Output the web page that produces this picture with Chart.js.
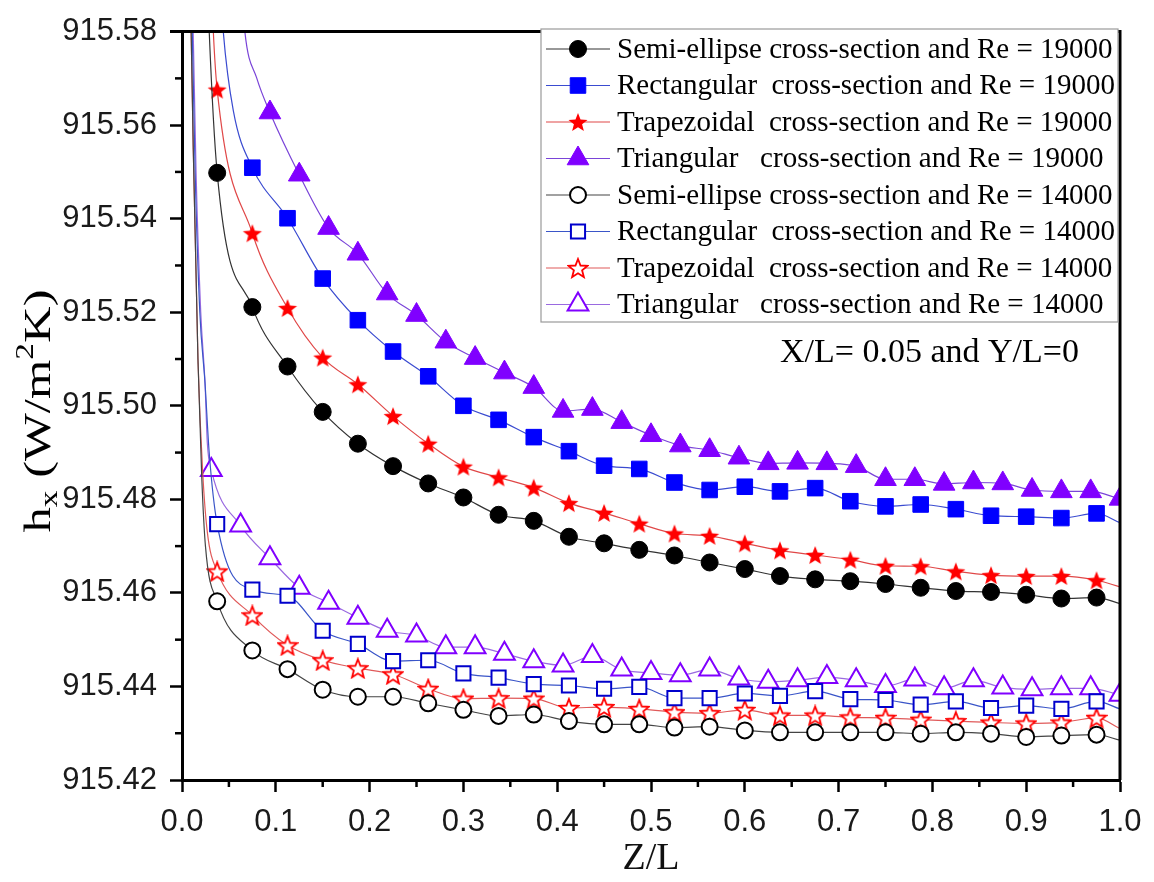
<!DOCTYPE html>
<html>
<head>
<meta charset="utf-8">
<script src="https://cdn.jsdelivr.net/npm/chart.js@4.4.0/dist/chart.umd.min.js"></script>
<style>
  body { margin: 0; background: #fff; }
  #hxChart { display: block; }
</style>
</head>
<body>
<canvas id="hxChart" width="1154" height="882"></canvas>
<script>
  // Z/L stations carrying a symbol
  const zMarks = [
    0.0375, 0.075, 0.1125, 0.15, 0.1875, 0.225, 0.2625, 0.3, 0.3375, 0.375,
    0.4125, 0.45, 0.4875, 0.525, 0.5625, 0.6, 0.6375, 0.675, 0.7125, 0.75,
    0.7875, 0.825, 0.8625, 0.9, 0.9375, 0.975,
  ];
  const zMarksTri = [
    0.03125, 0.0625, 0.09375, 0.125, 0.15625, 0.1875, 0.21875, 0.25,
    0.28125, 0.3125, 0.34375, 0.375, 0.40625, 0.4375, 0.46875, 0.5,
    0.53125, 0.5625, 0.59375, 0.625, 0.65625, 0.6875, 0.71875, 0.75,
    0.78125, 0.8125, 0.84375, 0.875, 0.90625, 0.9375, 0.96875, 1.0,
  ];

  // Re = 19000
  const semi19 = [
    915.5498, 915.5211, 915.5084, 915.4987, 915.4919, 915.4871, 915.4834, 915.4804, 915.4767, 915.4754,
    915.4720, 915.4706, 915.4692, 915.4680, 915.4665, 915.4651, 915.4636, 915.4629, 915.4625, 915.4619,
    915.4611, 915.4604, 915.4602, 915.4596, 915.4588, 915.4590,
  ];
  const rect19 = [
    915.5509, 915.5401, 915.5272, 915.5183, 915.5116, 915.5063, 915.5000, 915.4970, 915.4933,
    915.4903, 915.4872, 915.4865, 915.4836, 915.4820, 915.4827, 915.4817, 915.4824, 915.4796, 915.4785,
    915.4789, 915.4779, 915.4765, 915.4763, 915.4760, 915.4770,
  ];
  const trap19 = [
    915.5676, 915.5369, 915.5209, 915.5103, 915.5046, 915.4978, 915.4919, 915.4870, 915.4847, 915.4825,
    915.4792, 915.4771, 915.4748, 915.4727, 915.4722, 915.4706, 915.4691, 915.4681, 915.4671, 915.4658,
    915.4657, 915.4646, 915.4638, 915.4636, 915.4636, 915.4627,
  ];
  const tri19 = [
    915.5627, 915.5494, 915.5380, 915.5325, 915.5240, 915.5194, 915.5137, 915.5102, 915.5071,
    915.5040, 915.4989, 915.4993, 915.4965, 915.4937, 915.4915, 915.4905, 915.4889, 915.4877, 915.4878,
    915.4877, 915.4871, 915.4843, 915.4843, 915.4833, 915.4836, 915.4834, 915.4820, 915.4817, 915.4817,
    915.4801,
  ];

  // Re = 14000
  const semi14 = [
    915.4582, 915.4477, 915.4437, 915.4393, 915.4378, 915.4378, 915.4364, 915.4350, 915.4337, 915.4340,
    915.4326, 915.4319, 915.4319, 915.4312, 915.4314, 915.4306, 915.4302, 915.4302, 915.4302, 915.4302,
    915.4299, 915.4302, 915.4299, 915.4292, 915.4295, 915.4297,
  ];
  const rect14 = [
    915.4747, 915.4607, 915.4594, 915.4519, 915.4491, 915.4454, 915.4456, 915.4428, 915.4419, 915.4405,
    915.4402, 915.4395, 915.4399, 915.4375, 915.4375, 915.4385, 915.4380, 915.4390, 915.4373, 915.4371,
    915.4361, 915.4368, 915.4354, 915.4359, 915.4352, 915.4368,
  ];
  const trap14 = [
    915.4646, 915.4552, 915.4488, 915.4456, 915.4439, 915.4426, 915.4395, 915.4374, 915.4375, 915.4374,
    915.4354, 915.4356, 915.4352, 915.4345, 915.4343, 915.4350, 915.4338, 915.4338, 915.4334, 915.4333,
    915.4329, 915.4326, 915.4323, 915.4321, 915.4323, 915.4333,
  ];
  const tri14 = [
    915.4863, 915.4744, 915.4674, 915.4611, 915.4579, 915.4547, 915.4519, 915.4509, 915.4484, 915.4484,
    915.4470, 915.4454, 915.4445, 915.4465, 915.4436, 915.4429, 915.4424, 915.4436, 915.4417, 915.4410,
    915.4413, 915.4420, 915.4413, 915.4401, 915.4415, 915.4396, 915.4413, 915.4398, 915.4394, 915.4396,
    915.4396, 915.4382,
  ];

  // steep entrance region (no symbols) and wall end values
  const semi19LeadZ = [0.024, 0.029];            const semi19LeadH = [915.61, 915.58];
  const rect19LeadZ = [0.038, 0.044, 0.0547];    const rect19LeadH = [915.60, 915.58, 915.5631];
  const trap19LeadZ = [0.028, 0.0334];           const trap19LeadH = [915.61, 915.58];
  const tri19LeadZ  = [0.060, 0.067, 0.0796];    const tri19LeadH  = [915.60, 915.58, 915.5701];
  const semi14LeadZ = [0.008, 0.012, 0.017, 0.021, 0.025];   const semi14LeadH = [915.60, 915.555, 915.51, 915.485, 915.470];
  const rect14LeadZ = [0.009, 0.014, 0.019, 0.0245, 0.029];  const rect14LeadH = [915.60, 915.55, 915.52, 915.505, 915.490];
  const trap14LeadZ = [0.008, 0.012, 0.017, 0.022, 0.027];   const trap14LeadH = [915.60, 915.555, 915.51, 915.486, 915.473];
  const tri14LeadZ  = [0.010, 0.015, 0.020, 0.0245, 0.027];  const tri14LeadH  = [915.60, 915.55, 915.52, 915.505, 915.492];

  const semi19End = 915.4577, rect19End = 915.4750, trap19End = 915.4613;
  const semi14End = 915.4285, rect14End = 915.4352, trap14End = 915.4310;

  const yTicks = [915.42, 915.44, 915.46, 915.48, 915.50, 915.52, 915.54, 915.56, 915.58];

  const serif = "'Liberation Serif', 'Times New Roman', serif";
  const sans = "'Liberation Sans', Arial, sans-serif";

  function starImage(fill, stroke) {
    const c = document.createElement('canvas');
    c.width = c.height = 22;
    const g = c.getContext('2d');
    const R = 10, r = 4.3;
    g.beginPath();
    for (let i = 0; i < 10; i++) {
      const a = -Math.PI / 2 + i * Math.PI / 5;
      const rr = i % 2 ? r : R;
      g.lineTo(11 + rr * Math.cos(a), 12 + rr * Math.sin(a));
    }
    g.closePath();
    g.fillStyle = fill;
    g.fill();
    if (stroke) {
      g.lineWidth = 1.8;
      g.strokeStyle = stroke;
      g.stroke();
    }
    return c;
  }

  function series(leadZ, leadH, markZ, markH, endH) {
    const pts = [];
    leadZ.forEach((z, i) => pts.push({ x: z, y: leadH[i], mark: false }));
    markZ.forEach((z, i) => pts.push({ x: z, y: markH[i], mark: true }));
    if (endH !== undefined) pts.push({ x: 1.0, y: endH, mark: false });
    return pts;
  }

  function makeSet(label, data, line, fill, edge, style, radius) {
    return {
      label: label,
      data: data,
      borderColor: line,
      borderWidth: 1.2,
      pointStyle: style,
      pointBackgroundColor: fill,
      pointBorderColor: edge,
      pointBorderWidth: fill === '#ffffff' ? 2 : 1,
      pointRadius: ctx => (ctx.raw && ctx.raw.mark ? radius : 0),
      cubicInterpolationMode: 'monotone',
    };
  }

  const datasets = [
    makeSet('Semi-ellipse cross-section and Re = 19000',
      series(semi19LeadZ, semi19LeadH, zMarks, semi19, semi19End), '#333333', '#000000', '#000000', 'circle', 8.5),
    makeSet('Rectangular  cross-section and Re = 19000',
      series(rect19LeadZ, rect19LeadH, zMarks.slice(1), rect19, rect19End), '#3a4bd0', '#0000ff', '#0000ff', 'rect', 11),
    makeSet('Trapezoidal  cross-section and Re = 19000',
      series(trap19LeadZ, trap19LeadH, zMarks, trap19, trap19End), '#e04848', '#ff0000', '#ff0000', starImage('#ff0000', null), 9),
    makeSet('Triangular   cross-section and Re = 19000',
      series(tri19LeadZ, tri19LeadH, zMarksTri.slice(2), tri19), '#7a44d8', '#8000ff', '#8000ff', 'triangle', 12.5),
    makeSet('Semi-ellipse cross-section and Re = 14000',
      series(semi14LeadZ, semi14LeadH, zMarks, semi14, semi14End), '#444444', '#ffffff', '#000000', 'circle', 8),
    makeSet('Rectangular  cross-section and Re = 14000',
      series(rect14LeadZ, rect14LeadH, zMarks, rect14, rect14End), '#3a55c8', '#ffffff', '#0000cc', 'rect', 10),
    makeSet('Trapezoidal  cross-section and Re = 14000',
      series(trap14LeadZ, trap14LeadH, zMarks, trap14, trap14End), '#e05a5a', '#ffffff', '#ff0000', starImage('#ffffff', '#ff0000'), 9),
    makeSet('Triangular   cross-section and Re = 14000',
      series(tri14LeadZ, tri14LeadH, zMarksTri, tri14), '#9a6ae0', '#ffffff', '#8000ff', 'triangle', 12),
  ];

  // frame, minor ticks, y title, legend box and note
  const decorations = {
    id: 'decorations',
    afterDraw(chart) {
      const { ctx, chartArea: a, scales } = chart;
      ctx.save();

      ctx.strokeStyle = '#000';
      ctx.lineWidth = 3;
      ctx.beginPath();
      ctx.moveTo(a.left - 12, a.top);
      ctx.lineTo(a.right, a.top);
      ctx.lineTo(a.right, a.bottom);
      ctx.stroke();

      ctx.lineWidth = 2.5;
      for (let v = 0.05; v < 1; v += 0.1) {
        const px = scales.x.getPixelForValue(v);
        ctx.beginPath(); ctx.moveTo(px, a.bottom); ctx.lineTo(px, a.bottom + 7); ctx.stroke();
      }
      for (let i = 0; i < yTicks.length - 1; i++) {
        const py = scales.y.getPixelForValue((yTicks[i] + yTicks[i + 1]) / 2);
        ctx.beginPath(); ctx.moveTo(a.left, py); ctx.lineTo(a.left - 7, py); ctx.stroke();
      }

      // y axis title with subscript and superscript, run along 243 px
      ctx.translate(38, 411);
      ctx.rotate(-Math.PI / 2);
      ctx.fillStyle = '#000';
      ctx.textBaseline = 'alphabetic';
      const big = '38px ' + serif, small = '25px ' + serif;
      const parts = [['h', big, 0], ['x', small, 7], [' (W/m', big, 0], ['2', small, -17], ['K)', big, 0]];
      let total = 0;
      parts.forEach(p => { ctx.font = p[1]; total += ctx.measureText(p[0]).width; });
      ctx.scale(243 / total, 1);
      let x = -total / 2;
      parts.forEach(p => {
        ctx.font = p[1];
        ctx.fillText(p[0], x, 12 + p[2]);
        x += ctx.measureText(p[0]).width;
      });
      ctx.setTransform(1, 0, 0, 1, 0, 0);

      // legend
      ctx.fillStyle = '#fff';
      ctx.fillRect(541, 29, 577, 293);
      ctx.strokeStyle = '#9a9a9a';
      ctx.lineWidth = 1.2;
      ctx.strokeRect(541, 29, 577, 293);
      ctx.font = '29px ' + serif;
      ctx.textBaseline = 'middle';
      chart.data.datasets.forEach((ds, i) => {
        const y = 49 + i * 36.5;
        ctx.strokeStyle = ds.borderColor;
        ctx.lineWidth = 1.2;
        ctx.beginPath(); ctx.moveTo(546, y); ctx.lineTo(610, y); ctx.stroke();
        const meta = chart.getDatasetMeta(i);
        const pt = meta.data.find(e => e.options.radius > 0);
        ctx.fillStyle = ds.pointBackgroundColor;
        ctx.strokeStyle = ds.pointBorderColor;
        ctx.lineWidth = ds.pointBorderWidth;
        Chart.helpers.drawPoint(ctx, {
          pointStyle: ds.pointStyle,
          radius: pt ? pt.options.radius : 8,
          borderWidth: ds.pointBorderWidth,
          rotation: 0,
        }, 578, y);
        ctx.fillStyle = '#000';
        ctx.fillText(ds.label, 617, y + 1);
      });

      ctx.font = '34px ' + serif;
      ctx.fillText('X/L= 0.05 and Y/L=0', 780, 353);
      ctx.restore();
    },
  };

  const tickFont = { family: sans, size: 31 };

  const config = {
    type: 'line',
    data: { datasets: datasets },
    options: {
      responsive: false,
      animation: false,
      devicePixelRatio: 1,
      layout: { padding: { top: 24, right: 34, left: 0, bottom: 0 } },
      plugins: {
        legend: { display: false },
        tooltip: { enabled: false },
      },
      scales: {
        x: {
          type: 'linear',
          min: 0,
          max: 1,
          afterFit: s => { s.height = 102; },
          grid: { drawOnChartArea: false, tickLength: 12, tickWidth: 2.5, tickColor: '#000' },
          border: { color: '#000', width: 3 },
          ticks: {
            stepSize: 0.1,
            autoSkip: false,
            maxRotation: 0,
            padding: 12,
            color: '#1a1a1a',
            font: tickFont,
            callback: v => v.toFixed(1),
          },
          title: {
            display: true,
            text: 'Z/L',
            color: '#111',
            font: { family: serif, size: 38 },
            padding: { top: 0, bottom: 0 },
          },
        },
        y: {
          type: 'linear',
          min: 915.42,
          max: 915.58,
          afterFit: s => { s.width = 182; },
          grid: { drawOnChartArea: false, tickLength: 12, tickWidth: 2.5, tickColor: '#000' },
          border: { color: '#000', width: 3 },
          ticks: {
            stepSize: 0.02,
            autoSkip: false,
            padding: 13,
            color: '#1a1a1a',
            font: tickFont,
            callback: v => v.toFixed(2),
          },
        },
      },
    },
    plugins: [decorations],
  };

  const hxChart = new Chart(document.getElementById('hxChart'), config);
</script>
</body>
</html>
